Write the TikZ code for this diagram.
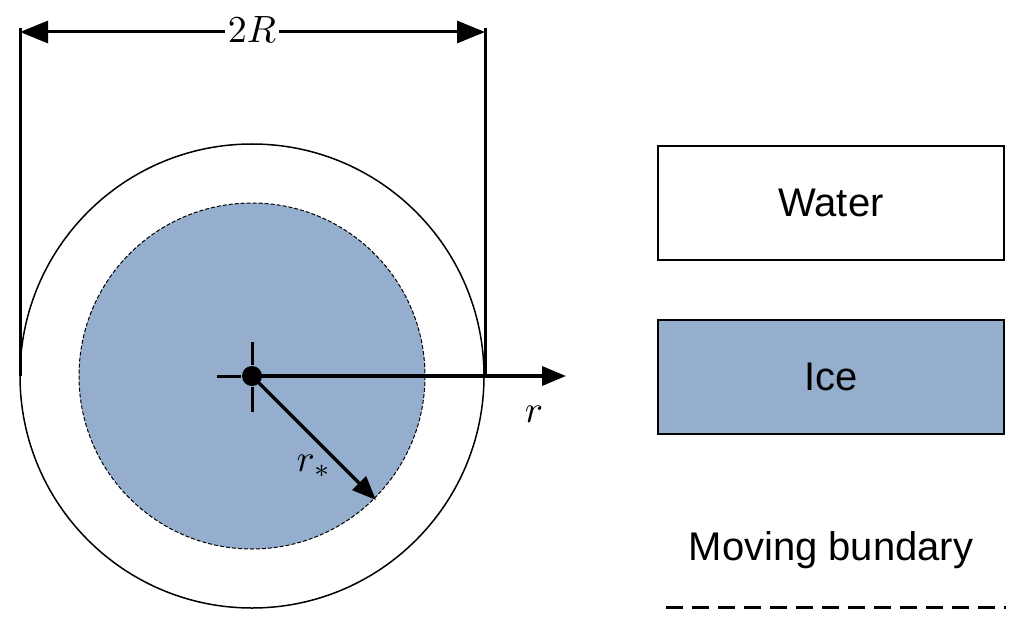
\documentclass[tikz,border=0pt]{standalone}
\usepackage{fontspec}
\newfontfamily\sff{Liberation Sans}
\usetikzlibrary{arrows.meta}
\definecolor{ice}{HTML}{95AECE}
\begin{document}
\begin{tikzpicture}[x=1pt,y=-1pt,
  thick arrow/.style={line width=3.5pt,-{Triangle[length=24pt,width=19pt]}},
  box/.style={draw,line width=2.2pt,minimum width=346pt,minimum height=114pt,font=\sff\fontsize{40}{44}\selectfont},
  lab/.style={inner sep=3pt}]
\useasboundingbox (0,0) rectangle (1024,639);
\coordinate (c) at (252,376);
\draw[line width=1.5pt] (c) circle[radius=232];
\draw[fill=ice,line width=1pt,dash pattern=on 4pt off 2pt] (c) circle[radius=173];
% dimension
\coordinate (L) at (20,376); \coordinate (Rr) at (485,376);
\coordinate (Lt) at (20,28); \coordinate (Rt) at (485,28);
\draw[line width=3pt] (L) -- (Lt) (Rr) -- (Rt);
\coordinate (a1) at (20,32); \coordinate (a2) at (485,32);
\draw[line width=3pt,{Triangle[length=28pt,width=22pt]}-{Triangle[length=28pt,width=22pt]}] (a1) -- (a2);
\node[lab,fill=white] (twoR) at (252,30) {\scalebox{3.8}{$2R$}};
% crosshair
\coordinate (h1) at (217,376); \coordinate (h2) at (241,376);
\coordinate (v1) at (252,342); \coordinate (v2) at (252,365);
\coordinate (v3) at (252,387); \coordinate (v4) at (252,412);
\draw[line width=3pt] (h1) -- (h2) (v1) -- (v2) (v3) -- (v4);
\coordinate (rend) at (566,376);
\coordinate (send) at (376,500);
\draw[thick arrow] (c) -- (rend);
\draw[thick arrow] (c) -- (send);
\fill (c) circle[radius=10];
\node[lab] (r) at (534,414) {\scalebox{3.8}{$r$}};
\node[lab] (rs) at (314,466) {\scalebox{3.8}{$r_*$}};
% legend
\node[box] (water) at (831,203) {Water};
\node[box,fill=ice] (icebox) at (831,377) {Ice};
\node[font=\sff\fontsize{40}{44}\selectfont] (mb) at (831,550) {Moving bundary};
\coordinate (d1) at (666,607); \coordinate (d2) at (1006,607);
\draw[line width=3pt,dash pattern=on 17pt off 9pt] (d1) -- (d2);
\end{tikzpicture}
\end{document}
